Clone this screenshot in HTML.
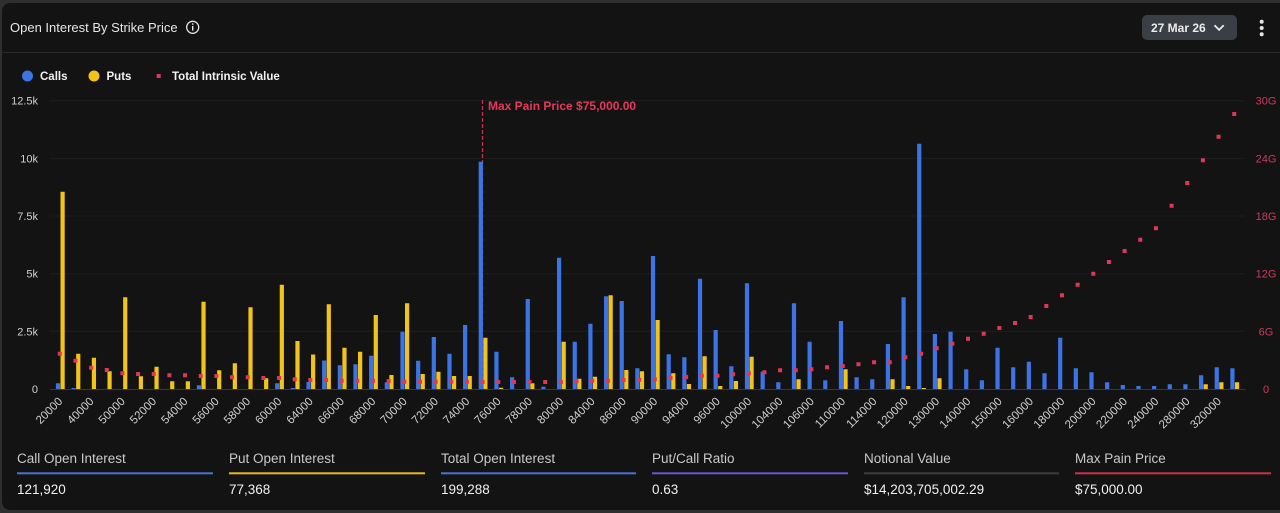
<!DOCTYPE html>
<html><head><meta charset="utf-8"><style>
html,body{margin:0;padding:0;background:#2f2f2f;width:1280px;height:513px;overflow:hidden}
svg{display:block;font-family:"Liberation Sans",Arial,sans-serif}
</style></head><body>
<svg width="1280" height="513" viewBox="0 0 1280 513" xmlns="http://www.w3.org/2000/svg">
<rect x="0" y="0" width="1280" height="513" fill="#2f2f2f"/>
<rect x="2" y="3" width="1286" height="507" rx="8" fill="#131313"/>
<!-- header -->
<text x="10" y="32" font-size="13" fill="#e6e6e6">Open Interest By Strike Price</text>
<circle cx="192.7" cy="27.3" r="6" fill="none" stroke="#e6e6e6" stroke-width="1.3"/>
<rect x="192" y="26" width="1.4" height="4.6" fill="#e6e6e6"/>
<rect x="192" y="23.3" width="1.4" height="1.5" fill="#e6e6e6"/>
<rect x="1142" y="15" width="95" height="25" rx="5" fill="#3a3e45"/>
<text x="1151" y="32" font-size="12" font-weight="bold" fill="#ececec">27 Mar 26</text>
<path d="M1214.5 25.3l4.6 4.6 4.6-4.6" fill="none" stroke="#ececec" stroke-width="1.8"/>
<circle cx="1261.7" cy="21.7" r="2" fill="#e6e6e6"/>
<circle cx="1261.7" cy="28" r="2" fill="#e6e6e6"/>
<circle cx="1261.7" cy="34.3" r="2" fill="#e6e6e6"/>
<rect x="2" y="52" width="1278" height="1" fill="#2a2a2a"/>
<!-- legend -->
<circle cx="27.5" cy="76" r="5.5" fill="#3b74e4"/>
<text x="40" y="80" font-size="11.5" font-weight="bold" fill="#f2f2f2">Calls</text>
<circle cx="94" cy="76" r="5.5" fill="#f2c318"/>
<text x="106.5" y="80" font-size="11.5" font-weight="bold" fill="#f2f2f2">Puts</text>
<rect x="156.7" y="74" width="4" height="4" fill="#e0365a"/>
<text x="172" y="80" font-size="11.5" font-weight="bold" fill="#f2f2f2">Total Intrinsic Value</text>
<!-- grid -->
<g stroke="#1e1e1e" stroke-width="1">
<path d="M50 100.7H1245M50 158.4H1245M50 216H1245M50 273.7H1245M50 331.3H1245"/>
</g>
<path d="M50 389.5H1245" stroke="#383838" stroke-width="1"/>
<!-- y labels -->
<g font-size="11" fill="#d0d0d0" text-anchor="end">
<text x="38" y="104.7">12.5k</text>
<text x="38" y="162.4">10k</text>
<text x="38" y="220">7.5k</text>
<text x="38" y="277.7">5k</text>
<text x="38" y="335.3">2.5k</text>
<text x="38" y="393">0</text>
</g>
<g font-size="11" fill="#cc3a5c" text-anchor="middle">
<text x="1266" y="104.7">30G</text>
<text x="1266" y="162.4">24G</text>
<text x="1266" y="220">18G</text>
<text x="1266" y="277.7">12G</text>
<text x="1266" y="335.3">6G</text>
<text x="1266" y="393">0</text>
</g>
<!-- max pain line -->
<path d="M482.5 100V389" stroke="#c43455" stroke-width="1.2" stroke-dasharray="4 2"/>
<text x="488" y="110" font-size="12" font-weight="bold" fill="#e8365d">Max Pain Price $75,000.00</text>
<!-- blue bars -->
<path transform="translate(-2.3,0)" fill="none" stroke="#3b74e4" stroke-width="4.2" d="M60.3 389V383.3M75.96 389V388M201.23 389V385.3M279.53 389V383.3M295.19 389V388M310.84 389V382M326.5 389V360.5M342.16 389V365.3M357.82 389V364.3M373.48 389V355.7M389.14 389V382.3M404.8 389V331.7M420.46 389V360.7M436.12 389V337M451.78 389V353.7M467.43 389V325M483.09 389V161.7M498.75 389V351.7M514.41 389V377.3M530.07 389V299M545.73 389V386.7M561.39 389V257.7M577.05 389V341.7M592.71 389V323.7M608.37 389V296.3M624.02 389V301M639.68 389V368.3M655.34 389V256M671 389V354.3M686.66 389V357.3M702.32 389V278.7M717.98 389V330M733.64 389V366.3M749.3 389V283.3M764.96 389V371.7M780.61 389V382.3M796.27 389V303.3M811.93 389V341.7M827.59 389V380.3M843.25 389V321M858.91 389V377.3M874.57 389V379.3M890.23 389V344M905.89 389V297.3M921.55 389V143.7M937.2 389V334M952.86 389V331.7M968.52 389V369.3M984.18 389V380.3M999.84 389V347.7M1015.5 389V367.3M1031.16 389V361.7M1046.82 389V373.3M1062.48 389V337.7M1078.14 389V368.3M1093.79 389V372.3M1109.45 389V382.3M1125.11 389V385M1140.77 389V386M1156.43 389V386M1172.09 389V384.3M1187.75 389V384.3M1203.41 389V375.3M1219.07 389V367.3M1234.73 389V368.3"/>
<!-- yellow bars -->
<path transform="translate(2.3,0)" fill="none" stroke="#f2c318" stroke-width="4.2" d="M60.3 389V191.7M75.96 389V353.7M91.62 389V357.7M107.28 389V371.3M122.94 389V297.3M138.6 389V376.3M154.25 389V366.7M169.91 389V381.3M185.57 389V381.3M201.23 389V301.7M216.89 389V370.3M232.55 389V363.3M248.21 389V307.3M263.87 389V378.3M279.53 389V284.7M295.19 389V341M310.84 389V354.5M326.5 389V304.3M342.16 389V347.7M357.82 389V351.7M373.48 389V315M389.14 389V375M404.8 389V303.3M420.46 389V374M436.12 389V371.7M451.78 389V376M467.43 389V376M483.09 389V337.7M498.75 389V387.7M530.07 389V383.3M561.39 389V341.7M577.05 389V378.7M592.71 389V376.7M608.37 389V295.3M624.02 389V370M639.68 389V371.3M655.34 389V320M671 389V373.3M686.66 389V384M702.32 389V356.3M717.98 389V386M733.64 389V381M749.3 389V356.7M796.27 389V379.3M843.25 389V369.3M890.23 389V379.3M905.89 389V386M921.55 389V388M937.2 389V378.3M1203.41 389V384.3M1219.07 389V382.3M1234.73 389V382.3"/>
<!-- intrinsic value dots -->
<path transform="translate(-2.5,0)" fill="none" stroke="#e0365a" stroke-width="4" d="M60.3 353.7h4M75.96 360.7h4M91.62 367.7h4M107.28 370h4M122.94 373.3h4M138.6 374h4M154.25 374h4M169.91 375.3h4M185.57 375.3h4M201.23 376h4M216.89 376h4M232.55 377.3h4M248.21 377.3h4M263.87 378h4M279.53 378h4M295.19 379.3h4M310.84 380h4M326.5 380h4M342.16 380.7h4M357.82 380.7h4M373.48 380.7h4M389.14 381h4M404.8 381.7h4M420.46 381.7h4M436.12 381.7h4M451.78 381.7h4M467.43 381.7h4M483.09 382h4M498.75 382h4M514.41 382h4M530.07 382h4M545.73 382h4M561.39 382h4M577.05 381.3h4M592.71 380.7h4M608.37 380.7h4M624.02 380h4M639.68 379.7h4M655.34 379.3h4M671 378h4M686.66 377h4M702.32 375.7h4M717.98 375.7h4M733.64 374.3h4M749.3 373.3h4M764.96 372.3h4M780.61 370.3h4M796.27 370.3h4M811.93 369.3h4M827.59 367.3h4M843.25 366h4M858.91 364.3h4M874.57 362.3h4M890.23 362.3h4M905.89 357.3h4M921.55 353.7h4M937.2 348.3h4M952.86 343.7h4M968.52 338.7h4M984.18 333.7h4M999.84 328h4M1015.5 323h4M1031.16 317h4M1046.82 306h4M1062.48 295.3h4M1078.14 284.7h4M1093.79 273.7h4M1109.45 262h4M1125.11 251h4M1140.77 239.7h4M1156.43 228.3h4M1172.09 205.7h4M1187.75 183h4M1203.41 160.3h4M1219.07 136.7h4M1234.73 114h4"/>
<!-- x labels -->
<g font-size="11.5" fill="#cfcfcf" text-anchor="end">
<text x="63.1" y="402" transform="rotate(-45 63.1 402)">20000</text>
<text x="94.42" y="402" transform="rotate(-45 94.42 402)">40000</text>
<text x="125.74" y="402" transform="rotate(-45 125.74 402)">50000</text>
<text x="157.05" y="402" transform="rotate(-45 157.05 402)">52000</text>
<text x="188.37" y="402" transform="rotate(-45 188.37 402)">54000</text>
<text x="219.69" y="402" transform="rotate(-45 219.69 402)">56000</text>
<text x="251.01" y="402" transform="rotate(-45 251.01 402)">58000</text>
<text x="282.33" y="402" transform="rotate(-45 282.33 402)">60000</text>
<text x="313.64" y="402" transform="rotate(-45 313.64 402)">64000</text>
<text x="344.96" y="402" transform="rotate(-45 344.96 402)">66000</text>
<text x="376.28" y="402" transform="rotate(-45 376.28 402)">68000</text>
<text x="407.6" y="402" transform="rotate(-45 407.6 402)">70000</text>
<text x="438.92" y="402" transform="rotate(-45 438.92 402)">72000</text>
<text x="470.23" y="402" transform="rotate(-45 470.23 402)">74000</text>
<text x="501.55" y="402" transform="rotate(-45 501.55 402)">76000</text>
<text x="532.87" y="402" transform="rotate(-45 532.87 402)">78000</text>
<text x="564.19" y="402" transform="rotate(-45 564.19 402)">80000</text>
<text x="595.51" y="402" transform="rotate(-45 595.51 402)">84000</text>
<text x="626.82" y="402" transform="rotate(-45 626.82 402)">86000</text>
<text x="658.14" y="402" transform="rotate(-45 658.14 402)">90000</text>
<text x="689.46" y="402" transform="rotate(-45 689.46 402)">94000</text>
<text x="720.78" y="402" transform="rotate(-45 720.78 402)">96000</text>
<text x="752.1" y="402" transform="rotate(-45 752.1 402)">100000</text>
<text x="783.41" y="402" transform="rotate(-45 783.41 402)">104000</text>
<text x="814.73" y="402" transform="rotate(-45 814.73 402)">106000</text>
<text x="846.05" y="402" transform="rotate(-45 846.05 402)">110000</text>
<text x="877.37" y="402" transform="rotate(-45 877.37 402)">114000</text>
<text x="908.69" y="402" transform="rotate(-45 908.69 402)">120000</text>
<text x="940" y="402" transform="rotate(-45 940 402)">130000</text>
<text x="971.32" y="402" transform="rotate(-45 971.32 402)">140000</text>
<text x="1002.64" y="402" transform="rotate(-45 1002.64 402)">150000</text>
<text x="1033.96" y="402" transform="rotate(-45 1033.96 402)">160000</text>
<text x="1065.28" y="402" transform="rotate(-45 1065.28 402)">180000</text>
<text x="1096.59" y="402" transform="rotate(-45 1096.59 402)">200000</text>
<text x="1127.91" y="402" transform="rotate(-45 1127.91 402)">220000</text>
<text x="1159.23" y="402" transform="rotate(-45 1159.23 402)">240000</text>
<text x="1190.55" y="402" transform="rotate(-45 1190.55 402)">280000</text>
<text x="1221.87" y="402" transform="rotate(-45 1221.87 402)">320000</text>
</g>
<!-- stats -->
<g font-size="13.5" fill="#c9c9c9">
<text x="17" y="463">Call Open Interest</text>
<text x="229" y="463">Put Open Interest</text>
<text x="441" y="463">Total Open Interest</text>
<text x="652" y="463">Put/Call Ratio</text>
<text x="864" y="463">Notional Value</text>
<text x="1075" y="463">Max Pain Price</text>
</g>
<rect x="17" y="472.3" width="196" height="2" fill="#4a74d0"/>
<rect x="229" y="472.3" width="196" height="2" fill="#e8b824"/>
<rect x="441" y="472.3" width="195" height="2" fill="#4a74d0"/>
<rect x="652" y="472.3" width="196" height="2" fill="#6a55d8"/>
<rect x="864" y="472.3" width="195" height="2" fill="#3c3c3c"/>
<rect x="1075" y="472.3" width="196" height="2" fill="#c8324f"/>
<g font-size="13.5" fill="#f0f0f0">
<text x="17" y="494">121,920</text>
<text x="229" y="494">77,368</text>
<text x="441" y="494">199,288</text>
<text x="652" y="494">0.63</text>
<text x="864" y="494">$14,203,705,002.29</text>
<text x="1075" y="494">$75,000.00</text>
</g>
</svg>
</body></html>
